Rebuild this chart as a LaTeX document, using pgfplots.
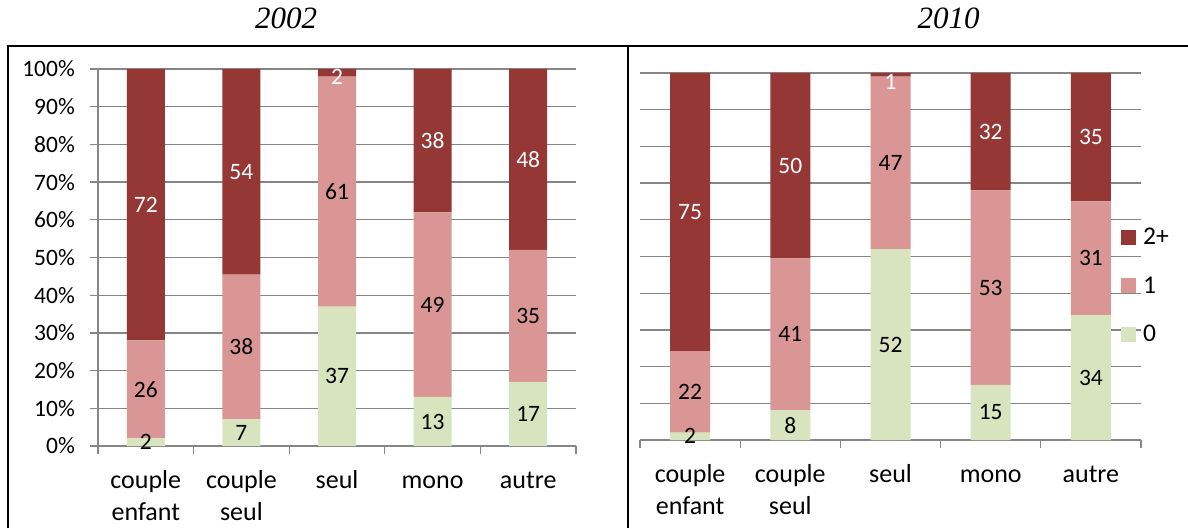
\documentclass[border=0pt]{standalone}
\usepackage{pgfplots}
\usepackage{pgfplotstable}
\pgfplotsset{compat=1.18}
\usepackage{fontspec}
\setmainfont{Carlito}
\newfontfamily\titlefont{Liberation Serif}
\definecolor{dred}{HTML}{953735}
\definecolor{pinkc}{HTML}{D99694}
\definecolor{greenc}{HTML}{D7E4BD}
\definecolor{gridc}{HTML}{868686}

% bar heights (shares, normalised to 100)
\pgfplotstableread{
x  zero   one    two
0  2      26     72
1  7.07   38.38  54.55
2  37     61     2
3  13     49     38
4  17     35     48
}\dataA
\pgfplotstableread{
x  zero   one    two
0  2.02   22.22  75.76
1  8.08   41.41  50.51
2  52     47     1
3  15     53     32
4  34     31     35
}\dataB
% label positions (middle of segment) and printed values
\pgfplotstableread{
x  y0    l0  y1     l1  y2     l2
0  1     2   15     26  64     72
1  3.54  7   26.26  38  72.73  54
2  18.5  37  67.5   61  98     2
3  6.5   13  37.5   49  81     38
4  8.5   17  34.5   35  76     48
}\labA
\pgfplotstableread{
x  y0    l0  y1     l1  y2     l2
0  1.01  2   13.13  22  62.12  75
1  4.04  8   28.79  41  74.75  50
2  26    52  75.5   47  97.5   1
3  7.5   15  41.5   53  84     32
4  17    34  49.5   31  82.5   35
}\labB

\pgfplotsset{
  base/.style={scale only axis, xmin=-0.5, xmax=4.5, ymin=0, ymax=100},
  panel/.style={base, ybar stacked,
    xtick={-0.5,0.5,1.5,2.5,3.5,4.5}, x tick label as interval,
    xticklabels={{\strut couple\\enfant},{\strut couple\\seul},\strut seul,\strut mono,\strut autre},
    xticklabel style={align=center, font=\fontsize{26}{32}\selectfont, inner sep=0pt, yshift=-12pt},
    tick align=outside, major tick length=8pt,
    axis x line*=bottom, axis y line*=left,
    axis line style={draw=gridc, line width=1.3pt},
    tick style={draw=gridc, line width=1.3pt},
    ytick={0,10,20,30,40,50,60,70,80,90,100},
    ymajorgrids, grid style={draw=gridc, line width=1.3pt},
    every axis plot/.append style={draw=none},
  },
  sq/.style={legend image code/.code={\fill[##1] (0pt,-7.5pt) rectangle (15pt,7.5pt);}},
  labs/.style={base, hide axis, clip=false,
    every axis plot/.append style={draw=none, mark=none},
    nodes near coords, point meta=explicit symbolic,
    every node near coord/.append style={anchor=center, inner sep=0pt,
      font=\fontsize{23.5}{28}\selectfont}},
}

\begin{document}
\begin{tikzpicture}
\useasboundingbox (0,0) rectangle (1188pt,528pt);
% ---- 2002 ----
\begin{axis}[panel, width=478pt, height=377pt, at={(98pt,82pt)}, anchor=south west, bar width=38pt,
  yticklabels={0\%,10\%,20\%,30\%,40\%,50\%,60\%,70\%,80\%,90\%,100\%},
  yticklabel style={font=\fontsize{23.5}{27}\selectfont, inner sep=0pt, anchor=east, xshift=-15pt}]
\addplot[fill=greenc] table[x=x, y=zero] {\dataA};
\addplot[fill=pinkc] table[x=x, y=one] {\dataA};
\addplot[fill=dred] table[x=x, y=two] {\dataA};
\end{axis}
\begin{axis}[labs, width=478pt, height=377pt, at={(98pt,82pt)}, anchor=south west]
\addplot[draw=none, mark=none, nodes near coords style={text=black}] table[x=x, y=y0, meta=l0] {\labA};
\addplot[draw=none, mark=none, nodes near coords style={text=black}] table[x=x, y=y1, meta=l1] {\labA};
\addplot[draw=none, mark=none, nodes near coords style={text=white}] table[x=x, y=y2, meta=l2] {\labA};
\end{axis}
% ---- 2010 ----
\begin{axis}[panel, width=501pt, height=367pt, at={(640pt,88pt)}, anchor=south west, bar width=40pt,
  y axis line style={draw=none}, ytick style={draw=none}, yticklabels={},
  reverse legend,
  legend style={draw=none, fill=none, at={(1,0.42)}, anchor=west, xshift=-20pt,
    font=\fontsize{25.5}{30}\selectfont, inner sep=0pt, row sep=30.5pt, column sep=7pt,
    nodes={inner sep=0pt}},
  legend cell align=left]
\addplot[fill=greenc, sq] table[x=x, y=zero] {\dataB};
\addplot[fill=pinkc, sq] table[x=x, y=one] {\dataB};
\addplot[fill=dred, sq] table[x=x, y=two] {\dataB};
\legend{0,1,2+}
\end{axis}
\begin{axis}[labs, width=501pt, height=367pt, at={(640pt,88pt)}, anchor=south west]
\addplot[draw=none, mark=none, nodes near coords style={text=black}] table[x=x, y=y0, meta=l0] {\labB};
\addplot[draw=none, mark=none, nodes near coords style={text=black}] table[x=x, y=y1, meta=l1] {\labB};
\addplot[draw=none, mark=none, nodes near coords style={text=white}] table[x=x, y=y2, meta=l2] {\labB};
\end{axis}
% frames and titles
\draw[line width=2pt] (8pt,0) -- (8pt,482pt) -- (1188pt,482pt);
\draw[line width=2pt] (628pt,0) -- (628pt,482pt);
\node[anchor=base, font=\titlefont\itshape\fontsize{31}{36}\selectfont] at (286pt,499pt) {2002};
\node[anchor=base, font=\titlefont\itshape\fontsize{31}{36}\selectfont] at (948.5pt,499pt) {2010};
\end{tikzpicture}
\end{document}
